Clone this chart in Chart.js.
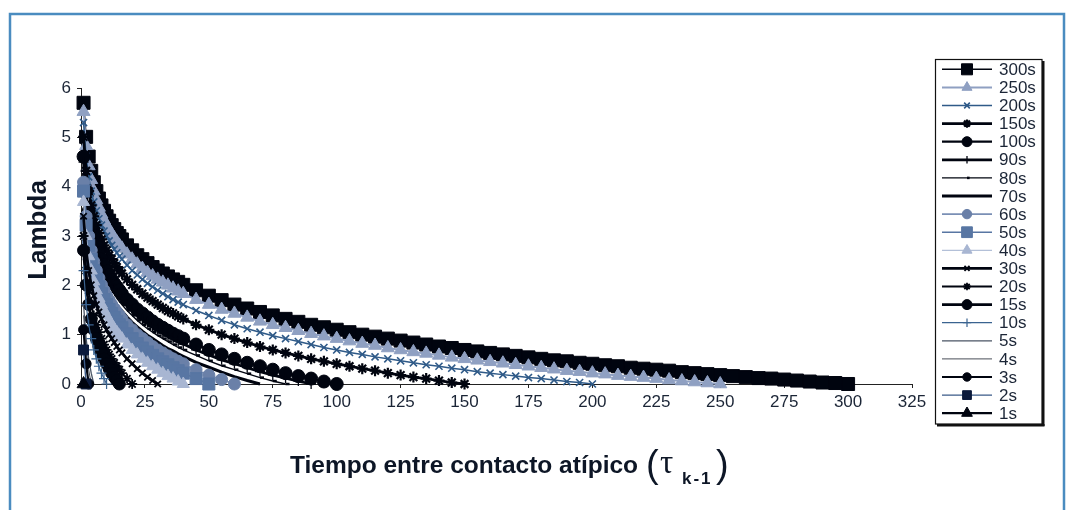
<!DOCTYPE html>
<html><head><meta charset="utf-8">
<script src="https://cdn.jsdelivr.net/npm/chart.js@4.4.1/dist/chart.umd.min.js"></script>
<style>html,body{margin:0;padding:0;background:#fff}#wrap{width:1068px;height:510px;position:relative}</style>
</head><body><div id="wrap"><canvas id="c" width="1068" height="510"></canvas></div>
<script>
// x values (tiempo entre contacto atípico)
const tau = [1,2,3,4,5,6,7,8,9,10,11,12,13,14,15,16,18,20,22,24,26,28,30,32,34,36,38,40,45,50,55,60,65,70,75,80,85,90,95,100,105,110,115,120,125,130,135,140,145,150,155,160,165,170,175,180,185,190,195,200,205,210,215,220,225,230,235,240,245,250,255,260,265,270,275,280,285,290,295,300];
const xTicks = [0,25,50,75,100,125,150,175,200,225,250,275,300,325];
const yTicks = [0,1,2,3,4,5,6];
const seriesNames = ['300s','250s','200s','150s','100s','90s','80s','70s','60s','50s','40s','30s','20s','15s','10s','5s','4s','3s','2s','1s'];

const s300 = [5.70,5.01,4.61,4.32,4.09,3.91,3.76,3.62,3.51,3.40,3.31,3.22,3.14,3.06,3.00,2.93,2.81,2.71,2.61,2.53,2.45,2.37,2.30,2.24,2.18,2.12,2.07,2.01,1.90,1.79,1.70,1.61,1.53,1.46,1.39,1.32,1.26,1.20,1.15,1.10,1.05,1.00,0.96,0.92,0.88,0.84,0.80,0.76,0.73,0.69,0.66,0.63,0.60,0.57,0.54,0.51,0.48,0.46,0.43,0.41,0.38,0.36,0.33,0.31,0.29,0.27,0.24,0.22,0.20,0.18,0.16,0.14,0.12,0.11,0.09,0.07,0.05,0.03,0.02,0];
const s250 = [5.52,4.83,4.42,4.14,3.91,3.73,3.58,3.44,3.32,3.22,3.12,3.04,2.96,2.88,2.81,2.75,2.63,2.53,2.43,2.34,2.26,2.19,2.12,2.06,2.00,1.94,1.88,1.83,1.71,1.61,1.51,1.43,1.35,1.27,1.20,1.14,1.08,1.02,0.97,0.92,0.87,0.82,0.78,0.73,0.69,0.65,0.62,0.58,0.54,0.51,0.48,0.45,0.42,0.39,0.36,0.33,0.30,0.27,0.25,0.22,0.20,0.17,0.15,0.13,0.11,0.08,0.06,0.04,0.02,0];
const s200 = [5.30,4.61,4.20,3.91,3.69,3.51,3.35,3.22,3.10,3.00,2.90,2.81,2.73,2.66,2.59,2.53,2.41,2.30,2.21,2.12,2.04,1.97,1.90,1.83,1.77,1.71,1.66,1.61,1.49,1.39,1.29,1.20,1.12,1.05,0.98,0.92,0.86,0.80,0.74,0.69,0.64,0.60,0.55,0.51,0.47,0.43,0.39,0.36,0.32,0.29,0.25,0.22,0.19,0.16,0.13,0.11,0.08,0.05,0.03,0];
const s150 = [5.01,4.32,3.91,3.62,3.40,3.22,3.06,2.93,2.81,2.71,2.61,2.53,2.45,2.37,2.30,2.24,2.12,2.01,1.92,1.83,1.75,1.68,1.61,1.54,1.48,1.43,1.37,1.32,1.20,1.10,1.00,0.92,0.84,0.76,0.69,0.63,0.57,0.51,0.46,0.41,0.36,0.31,0.27,0.22,0.18,0.14,0.11,0.07,0.03,0];
const s100 = [4.61,3.91,3.51,3.22,3.00,2.81,2.66,2.53,2.41,2.30,2.21,2.12,2.04,1.97,1.90,1.83,1.71,1.61,1.51,1.43,1.35,1.27,1.20,1.14,1.08,1.02,0.97,0.92,0.80,0.69,0.60,0.51,0.43,0.36,0.29,0.22,0.16,0.11,0.05,0];
const s90 = [4.50,3.81,3.40,3.11,2.89,2.71,2.55,2.42,2.30,2.20,2.10,2.01,1.93,1.86,1.79,1.73,1.61,1.50,1.41,1.32,1.24,1.17,1.10,1.03,0.97,0.92,0.86,0.81,0.69,0.59,0.49,0.41,0.33,0.25,0.18,0.12,0.06,0];
const s80 = [4.38,3.69,3.28,3.00,2.77,2.59,2.44,2.30,2.18,2.08,1.98,1.90,1.82,1.74,1.67,1.61,1.49,1.39,1.29,1.20,1.12,1.05,0.98,0.92,0.86,0.80,0.74,0.69,0.58,0.47,0.37,0.29,0.21,0.13,0.06,0];
const s70 = [4.25,3.56,3.15,2.86,2.64,2.46,2.30,2.17,2.05,1.95,1.85,1.76,1.68,1.61,1.54,1.48,1.36,1.25,1.16,1.07,0.99,0.92,0.85,0.78,0.72,0.67,0.61,0.56,0.44,0.34,0.24,0.15,0.07,0];
const s60 = [4.09,3.40,3.00,2.71,2.48,2.30,2.15,2.01,1.90,1.79,1.70,1.61,1.53,1.46,1.39,1.32,1.20,1.10,1.00,0.92,0.84,0.76,0.69,0.63,0.57,0.51,0.46,0.41,0.29,0.18,0.09,0];
const s50 = [3.91,3.22,2.81,2.53,2.30,2.12,1.97,1.83,1.71,1.61,1.51,1.43,1.35,1.27,1.20,1.14,1.02,0.92,0.82,0.73,0.65,0.58,0.51,0.45,0.39,0.33,0.27,0.22,0.11,0];
const s40 = [3.69,3.00,2.59,2.30,2.08,1.90,1.74,1.61,1.49,1.39,1.29,1.20,1.12,1.05,0.98,0.92,0.80,0.69,0.60,0.51,0.43,0.36,0.29,0.22,0.16,0.11,0.05,0];
const s30 = [3.40,2.71,2.30,2.01,1.79,1.61,1.46,1.32,1.20,1.10,1.00,0.92,0.84,0.76,0.69,0.63,0.51,0.41,0.31,0.22,0.14,0.07,0];
const s20 = [3.00,2.30,1.90,1.61,1.39,1.20,1.05,0.92,0.80,0.69,0.60,0.51,0.43,0.36,0.29,0.22,0.11,0];
const s15 = [2.71,2.01,1.61,1.32,1.10,0.92,0.76,0.63,0.51,0.41,0.31,0.22,0.14,0.07,0];
const s10 = [2.30,1.61,1.20,0.92,0.69,0.51,0.36,0.22,0.11,0];
const s5 = [1.61,0.92,0.51,0.22,0];
const s4 = [1.39,0.69,0.29,0];
const s3 = [1.10,0.41,0];
const s2 = [0.69,0];
const s1 = [0];

const values = [s300,s250,s200,s150,s100,s90,s80,s70,s60,s50,s40,s30,s20,s15,s10,s5,s4,s3,s2,s1];
const K = '#00040f';
// c: line colour, w: line width, ps: marker, r: marker radius (plot), lr: marker radius (legend), pb: marker stroke, f: marker fill
const styles = [
  {c:K,w:1.5,ps:'rect',r:9.2,lr:7.8,pb:1,f:K},
  {c:'#8fa0c2',w:2,ps:'triangle',r:7.5,lr:5.8,pb:1,f:'#8fa0c2'},
  {c:'#2f5a88',w:1.5,ps:'crossRot',r:5,lr:4,pb:1.6,f:'#2f5a88'},
  {c:K,w:2.8,ps:'star',r:5.5,lr:4.2,pb:2.2,f:K},
  {c:K,w:2.2,ps:'circle',r:6.5,lr:5,pb:1,f:K},
  {c:K,w:2.8,ps:'cross',r:5,lr:3.8,pb:1.3,f:K},
  {c:K,w:1.4,ps:'dash',r:4,lr:2.6,pb:2.5,f:K},
  {c:K,w:3,ps:'circle',r:0,lr:0,pb:0,f:K},
  {c:'#7a8fb5',w:1.6,ps:'circle',r:6,lr:4.7,pb:1,f:'#6a80a8'},
  {c:'#5876a3',w:1.6,ps:'rect',r:8.5,lr:7.6,pb:1,f:'#5876a3'},
  {c:'#b3c0d8',w:1.2,ps:'triangle',r:7,lr:5.8,pb:1,f:'#a8b6d2'},
  {c:K,w:2.8,ps:'crossRot',r:4.5,lr:3.6,pb:1.8,f:K},
  {c:K,w:1.8,ps:'star',r:5,lr:3.8,pb:1.8,f:K},
  {c:K,w:2.8,ps:'circle',r:6,lr:5,pb:1,f:K},
  {c:'#3a6390',w:1.2,ps:'cross',r:5,lr:4.2,pb:1.2,f:'#3a6390'},
  {c:'#4a5565',w:1.3,ps:'circle',r:0,lr:0,pb:0,f:'#4a5565'},
  {c:'#333a44',w:0.9,ps:'circle',r:0,lr:0,pb:0,f:'#333a44'},
  {c:K,w:2.2,ps:'circle',r:5,lr:4.2,pb:1,f:K},
  {c:'#3a5a88',w:1.4,ps:'rect',r:7,lr:6.2,pb:1,f:'#0b1a3c'},
  {c:K,w:2.2,ps:'triangle',r:7.5,lr:6.2,pb:1,f:K}
];

// later series are painted over earlier ones (first series at the bottom)
const datasets = seriesNames.map((n,i)=>({
  label:n, data:values[i], borderColor:styles[i].c, borderWidth:styles[i].w,
  backgroundColor:styles[i].f, pointStyle:styles[i].ps, pointRadius:styles[i].r,
  pointBorderWidth:styles[i].pb, pointBorderColor:styles[i].f, pointBackgroundColor:styles[i].f,
  pointHoverRadius:styles[i].r, tension:0, fill:false, clip:false,
  order: seriesNames.length - i
}));

const TXT = '#1b2536';
const FONT = "'Liberation Sans', Arial, sans-serif";

const decor = {
  id:'decor',
  beforeDraw(chart){
    const ctx = chart.ctx;
    ctx.save();
    ctx.fillStyle='#fff'; ctx.fillRect(0,0,1068,510);
    ctx.strokeStyle='#4a8cc0'; ctx.lineWidth=2.5;
    ctx.beginPath();
    ctx.moveTo(10,512); ctx.lineTo(10,14); ctx.lineTo(1064,14); ctx.lineTo(1064,512);
    ctx.stroke();
    ctx.restore();
  },
  afterDraw(chart){
    const ctx = chart.ctx;
    ctx.save();
    // y title
    ctx.fillStyle='#0d1626';
    ctx.font = "bold 26px " + FONT;
    ctx.textAlign='center'; ctx.textBaseline='middle';
    ctx.translate(39,230); ctx.rotate(-Math.PI/2);
    ctx.fillText('Lambda',0,0);
    ctx.restore();
    // x title
    ctx.save();
    ctx.fillStyle='#0d1626';
    ctx.textAlign='left'; ctx.textBaseline='alphabetic';
    ctx.font = "bold 24.5px " + FONT;
    ctx.fillText('Tiempo entre contacto atípico', 290, 473);
    ctx.font = "38px " + FONT;
    ctx.fillText('(', 646, 477);
    ctx.font = "33px 'Liberation Serif', serif";
    ctx.fillText('τ', 660, 473);
    ctx.font = "bold 17px " + FONT;
    ctx.letterSpacing = '2px';
    ctx.fillText('k-1', 682, 484);
    ctx.letterSpacing = '0px';
    ctx.font = "38px " + FONT;
    ctx.fillText(')', 716, 477);
    ctx.restore();
    // legend
    ctx.save();
    ctx.fillStyle='#fff';
    ctx.fillRect(935,59,107,365);
    ctx.strokeStyle='#111'; ctx.lineWidth=1.2;
    ctx.strokeRect(935.5,59.5,106.5,364.5);
    ctx.fillStyle='#111';
    ctx.fillRect(1042,61,2.5,365);
    ctx.fillRect(937,424,107.5,2.5);
    chart.data.datasets.forEach((ds,i)=>{
      const y = 69.3 + i*18.1;
      ctx.strokeStyle = ds.borderColor; ctx.lineWidth = ds.borderWidth;
      ctx.beginPath(); ctx.moveTo(942,y); ctx.lineTo(992,y); ctx.stroke();
      const lr = styles[i].lr;
      if (lr>0){
        ctx.fillStyle = ds.pointBackgroundColor; ctx.strokeStyle = ds.pointBorderColor;
        ctx.lineWidth = ds.pointBorderWidth;
        Chart.helpers.drawPoint(ctx,{pointStyle:ds.pointStyle,radius:lr,borderWidth:ds.pointBorderWidth,rotation:0},967,y);
      }
      ctx.fillStyle = TXT; ctx.font = "17px " + FONT;
      ctx.textAlign='left'; ctx.textBaseline='middle';
      ctx.fillText(ds.label, 999, y+1);
    });
    ctx.restore();
  }
};

new Chart(document.getElementById('c'),{
  type:'line',
  data:{labels:tau, datasets},
  options:{
    responsive:false, animation:false, devicePixelRatio:1,
    layout:{padding:{left:41,top:88,right:156,bottom:96}},
    plugins:{legend:{display:false},tooltip:{enabled:false}},
    scales:{
      x:{type:'linear',min:0,max:325,
        afterBuildTicks(s){s.ticks = xTicks.map(v=>({value:v}));},
        afterFit(s){s.height=30;},
        grid:{display:true,drawOnChartArea:false,drawTicks:true,tickLength:4,color:'#222',lineWidth:1},
        border:{display:true,color:'#222',width:1},
        ticks:{color:TXT,font:{family:FONT,size:17},padding:4,maxRotation:0,autoSkip:false}},
      y:{type:'linear',min:0,max:6,
        afterBuildTicks(s){s.ticks = yTicks.map(v=>({value:v}));},
        afterFit(s){s.width=40;},
        grid:{display:true,drawOnChartArea:false,drawTicks:true,tickLength:4,color:'#222',lineWidth:1},
        border:{display:true,color:'#222',width:1},
        ticks:{color:TXT,font:{family:FONT,size:17},padding:6}}
    }
  },
  plugins:[decor]
});
</script></body></html>
